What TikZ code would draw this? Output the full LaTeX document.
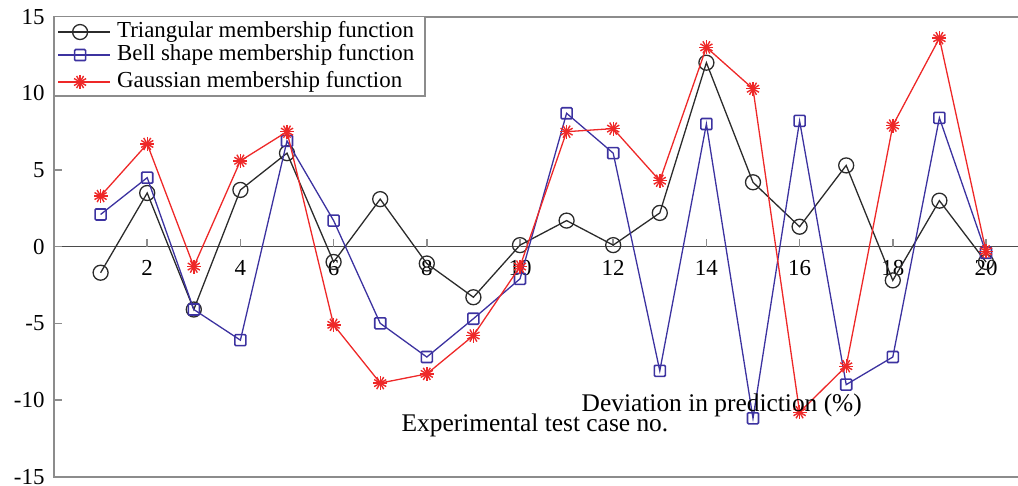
\documentclass[tikz,border=0pt]{standalone}
\usepackage{fontspec}
\setmainfont{Liberation Serif}
\definecolor{tricol}{HTML}{2B2B2B}
\definecolor{bellcol}{HTML}{3C32A0}
\definecolor{gausscol}{HTML}{EE2828}
\definecolor{framecol}{HTML}{8C8C8C}
\tikzset{
  triline/.style={draw=tricol, line width=1.3bp},
  bellline/.style={draw=bellcol, line width=1.3bp},
  gaussline/.style={draw=gausscol, line width=1.3bp},
  trimark/.style={circle, draw=tricol, line width=1.3bp, minimum size=15bp, inner sep=0pt},
  bellmark/.style={rectangle, draw=bellcol, line width=1.6bp, minimum size=11bp, inner sep=0pt, rounded corners=1bp},
  gaussmark/.style={circle, minimum size=15bp, inner sep=0pt, path picture={
    \foreach \a in {0,30,...,150}
      \draw[gausscol, line width=1.4bp] (path picture bounding box.center) ++(\a:7bp) -- ++(\a+180:14bp);}},
  ticklabel/.style={font=\fontsize{23}{27}\selectfont, inner sep=0pt},
  legtext/.style={font=\fontsize{23}{27}\selectfont, inner sep=0pt, anchor=west},
  axtitle/.style={font=\fontsize{25.5}{30}\selectfont, inner sep=0pt},
}
\begin{document}
\begin{tikzpicture}[x=46.6bp, y=15.33bp]
\useasboundingbox (-1.159,-15.61) rectangle (20.687,16.09);
% frame and axes
\draw[framecol, line width=2bp] (20.687,15) -- (0,15) -- (0,-15) -- (20.687,-15);
\draw[tricol!85, line width=1.5bp] (0,0) -- (20.687,0);
\foreach \v in {-15,-10,...,15} {
  \draw[framecol, line width=1.5bp] (0,\v) -- (0.17,\v);
  \node[ticklabel, anchor=east] (ylab\v) at (-0.2,\v) {\v};
}
\foreach \k in {2,4,...,20} {
  \draw[framecol, line width=1.5bp] (\k,0) -- (\k,0.5);
  \node[ticklabel] (xlab\k) at (\k,-1.4) {\k};
}
% data points
\foreach \v [count=\i] in {-1.7,3.5,-4.1,3.7,6.1,-1.0,3.1,-1.1,-3.3,0.1,1.7,0.1,2.2,12.0,4.2,1.3,5.3,-2.2,3.0,-1.0}
  \coordinate (t\i) at (\i,\v);
\foreach \v [count=\i] in {2.1,4.5,-4.1,-6.1,6.9,1.7,-5.0,-7.2,-4.7,-2.1,8.7,6.1,-8.1,8.0,-11.2,8.2,-9.0,-7.2,8.4,-0.4}
  \coordinate (b\i) at (\i,\v);
\foreach \v [count=\i] in {3.3,6.7,-1.3,5.6,7.5,-5.1,-8.9,-8.3,-5.8,-1.3,7.5,7.7,4.3,13.0,10.3,-10.8,-7.8,7.9,13.6,-0.3}
  \coordinate (g\i) at (\i,\v);
% series
\draw[triline] (t1) \foreach \i in {2,...,20} { -- (t\i) };
\foreach \i in {1,...,20} \node[trimark] (tm\i) at (t\i) {};
\draw[bellline] (b1) \foreach \i in {2,...,20} { -- (b\i) };
\foreach \i in {1,...,20} \node[bellmark] (bm\i) at (b\i) {};
\draw[gaussline] (g1) \foreach \i in {2,...,20} { -- (g\i) };
\foreach \i in {1,...,20} \node[gaussmark] (gm\i) at (g\i) {};
% legend
\draw[framecol, line width=1.3bp, fill=white] (0,15) rectangle (7.96,9.83);
\coordinate (la1) at (0.09,14.0);  \coordinate (lb1) at (1.2,14.0);
\coordinate (la2) at (0.09,12.5);  \coordinate (lb2) at (1.2,12.5);
\coordinate (la3) at (0.09,10.74); \coordinate (lb3) at (1.2,10.74);
\draw[triline] (la1) -- (lb1);
\draw[bellline] (la2) -- (lb2);
\draw[gaussline] (la3) -- (lb3);
\node[trimark] (lm1) at (0.56,14.0) {};
\node[bellmark] (lm2) at (0.56,12.5) {};
\node[gaussmark] (lm3) at (0.56,10.74) {};
\node[legtext] (lt1) at (1.35,14.0) {Triangular membership function};
\node[legtext] (lt2) at (1.35,12.5) {Bell shape membership function};
\node[legtext] (lt3) at (1.35,10.74) {Gaussian membership function};
% axis titles
\node[axtitle] (ytitle) at (14.33,-10.33) {Deviation in prediction (\%)};
\node[axtitle] (xtitle) at (10.32,-11.63) {Experimental test case no.};
\end{tikzpicture}
\end{document}
